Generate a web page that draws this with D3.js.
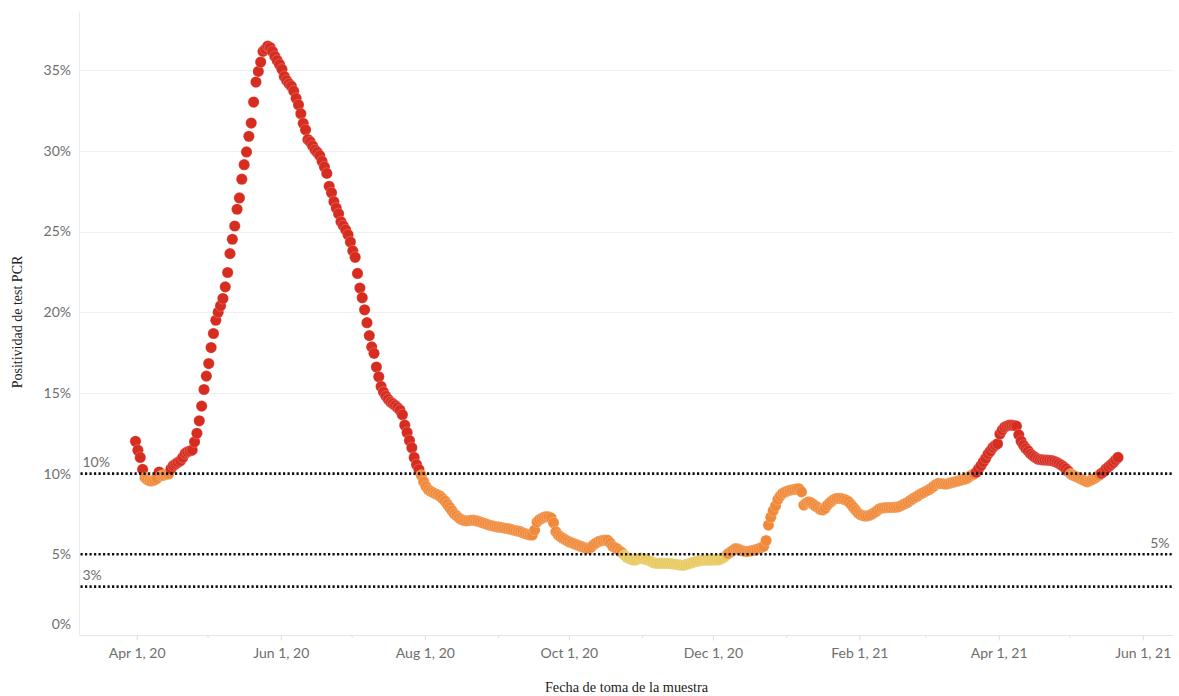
<!DOCTYPE html>
<html>
<head>
<meta charset="utf-8">
<script src="https://cdn.jsdelivr.net/npm/d3@7"></script>
<style>
  html, body { margin: 0; padding: 0; background: #fff; }
  svg { display: block; }
  .tick-lbl { font-family: Lato, "Open Sans", sans-serif; font-size: 14px; fill: #6e6e6e; }
</style>
</head>
<body>
<svg id="chart" width="1179" height="696"></svg>
<script>
// ---- Data: daily PCR positivity (%), series starts 2020-03-31 ----
const startDate = "2020-03-31";
const mar20 = [12.0];
const apr20 = [11.45, 11.0, 10.26, 9.75, 9.62, 9.55, 9.55, 9.6, 9.7, 10.1, 9.88, 9.9, 9.95, 9.98, 10.3, 10.5, 10.6, 10.7, 10.8, 11.0, 11.25, 11.35, 11.4, 11.46, 11.97, 12.5, 13.27, 14.18, 15.21, 16.04];
const may20 = [16.82, 17.81, 18.68, 19.5, 20.0, 20.4, 20.85, 21.57, 22.46, 23.63, 24.52, 25.34, 26.38, 27.08, 28.24, 29.14, 29.93, 30.9, 31.72, 33.02, 34.26, 34.92, 35.5, 36.16, 36.3, 36.49, 36.4, 36.15, 35.85, 35.6, 35.35];
const jun20 = [35.05, 34.6, 34.35, 34.15, 34.0, 33.7, 33.25, 32.85, 32.3, 31.7, 31.3, 30.7, 30.55, 30.3, 30.05, 29.9, 29.7, 29.35, 29.0, 28.6, 27.8, 27.4, 26.85, 26.45, 26.1, 25.6, 25.35, 25.1, 24.8, 24.35];
const jul20 = [23.8, 23.4, 22.4, 21.5, 20.9, 20.15, 19.35, 18.55, 17.85, 17.45, 16.6, 16.0, 15.4, 15.05, 14.8, 14.6, 14.43, 14.33, 14.22, 14.08, 13.93, 13.65, 13.0, 12.55, 12.05, 11.6, 11.0, 10.55, 10.25, 9.9, 9.5];
const aug20 = [9.2, 9.0, 8.9, 8.82, 8.75, 8.68, 8.6, 8.45, 8.3, 8.1, 7.9, 7.7, 7.5, 7.38, 7.25, 7.15, 7.1, 7.07, 7.08, 7.1, 7.12, 7.08, 7.05, 7.0, 6.95, 6.9, 6.85, 6.8, 6.77, 6.73, 6.7];
const sep20 = [6.68, 6.66, 6.63, 6.6, 6.58, 6.55, 6.5, 6.47, 6.43, 6.4, 6.33, 6.28, 6.24, 6.2, 6.2, 6.5, 7.0, 7.15, 7.22, 7.3, 7.33, 7.32, 7.25, 6.95, 6.4, 6.19, 6.08, 5.99, 5.9, 5.82];
const oct20 = [5.75, 5.7, 5.63, 5.58, 5.52, 5.47, 5.42, 5.38, 5.36, 5.45, 5.6, 5.7, 5.78, 5.84, 5.86, 5.88, 5.86, 5.7, 5.5, 5.42, 5.33, 5.2, 5.1, 4.95, 4.82, 4.74, 4.68, 4.64, 4.66, 4.72, 4.76];
const nov20 = [4.72, 4.68, 4.64, 4.58, 4.5, 4.45, 4.44, 4.44, 4.45, 4.44, 4.43, 4.42, 4.41, 4.4, 4.38, 4.35, 4.33, 4.32, 4.36, 4.4, 4.45, 4.5, 4.54, 4.58, 4.6, 4.62, 4.64, 4.64, 4.63, 4.64];
const dec20 = [4.65, 4.66, 4.66, 4.72, 4.8, 4.92, 5.05, 5.15, 5.25, 5.35, 5.33, 5.28, 5.22, 5.18, 5.17, 5.2, 5.23, 5.26, 5.3, 5.36, 5.42, 5.5, 5.85, 6.81, 7.3, 7.7, 8.0, 8.4, 8.62, 8.78, 8.86];
const jan21 = [8.92, 8.97, 9.0, 9.02, 9.05, 9.05, 8.87, 8.05, 8.18, 8.25, 8.2, 8.1, 7.98, 7.9, 7.78, 7.75, 7.85, 8.05, 8.2, 8.32, 8.42, 8.46, 8.47, 8.45, 8.41, 8.35, 8.25, 8.08, 7.9, 7.72, 7.55];
const feb21 = [7.45, 7.4, 7.37, 7.38, 7.43, 7.5, 7.6, 7.7, 7.82, 7.86, 7.88, 7.89, 7.9, 7.9, 7.91, 7.92, 7.94, 8.0, 8.08, 8.15, 8.23, 8.33, 8.43, 8.52, 8.6, 8.7, 8.78, 8.85];
const mar21 = [8.93, 9.0, 9.1, 9.22, 9.33, 9.39, 9.38, 9.37, 9.35, 9.37, 9.42, 9.46, 9.49, 9.53, 9.57, 9.61, 9.65, 9.7, 9.8, 9.9, 9.97, 10.08, 10.3, 10.5, 10.73, 10.95, 11.22, 11.4, 11.62, 11.75, 11.85];
const apr21 = [12.45, 12.7, 12.88, 12.95, 13.0, 13.0, 12.98, 12.94, 12.4, 12.0, 11.75, 11.55, 11.4, 11.22, 11.1, 11.0, 10.9, 10.87, 10.85, 10.84, 10.84, 10.82, 10.8, 10.76, 10.7, 10.62, 10.53, 10.42, 10.3, 10.15];
const may21 = [9.98, 9.9, 9.83, 9.77, 9.7, 9.62, 9.55, 9.49, 9.55, 9.62, 9.7, 9.8, 9.9, 10.02, 10.12, 10.3, 10.42, 10.55, 10.68, 10.85, 11.0];

const yTickValues = [0, 5, 10, 15, 20, 25, 30, 35];
const xMajorTicks = ["2020-04-01", "2020-06-01", "2020-08-01", "2020-10-01", "2020-12-01", "2021-02-01", "2021-04-01", "2021-06-01"];
const xMinorTicks = ["2020-05-01", "2020-07-01", "2020-09-01", "2020-11-01", "2021-01-01", "2021-03-01", "2021-05-01"];
const refLines = [10, 5, 3];
const refLabels = ["10%", "5%", "3%"];
const xTitle = "Fecha de toma de la muestra";
const yTitle = "Positividad de test PCR";

// ---- Build ----
const values = [].concat(mar20, apr20, may20, jun20, jul20, aug20, sep20, oct20, nov20, dec20, jan21, feb21, mar21, apr21, may21);
const parse = d3.utcParse("%Y-%m-%d");
const t0 = parse(startDate);
const DAY = 864e5;
const data = values.map((v, i) => ({ date: new Date(t0.getTime() + i * DAY + DAY / 2), v }));

const svg = d3.select("#chart");
const pL = 79.5, pR = 1173, pT = 12, pB = 635;
const apr1 = parse("2020-04-01").getTime();
const x = d3.scaleUtc()
  .domain([new Date(apr1 - 24.22 * DAY), new Date(apr1 + 438.8 * DAY)])
  .range([pL, pR]);
const y = d3.scaleLinear().domain([0, 38.6]).range([pB, pT]);

const color = v => v >= 10 ? "#d62d20" : (v >= 5 ? "#f08a3a" : "#e8c85c");

// gridlines
svg.append("g").selectAll("line").data(yTickValues.filter(d => d > 0)).join("line")
  .attr("x1", pL).attr("x2", pR)
  .attr("y1", d => Math.round(y(d)) + 0.5).attr("y2", d => Math.round(y(d)) + 0.5)
  .attr("stroke", "#f0f0f0").attr("stroke-width", 1);

// axis lines
svg.append("line").attr("x1", pL).attr("x2", pL).attr("y1", pT).attr("y2", pB)
  .attr("stroke", "#ebebeb");
svg.append("line").attr("x1", pL).attr("x2", pR).attr("y1", pB + 0.5).attr("y2", pB + 0.5)
  .attr("stroke", "#e6e6e6");

// y axis
const yAxis = svg.append("g").attr("transform", `translate(${pL},0)`)
  .call(d3.axisLeft(y).tickValues(yTickValues).tickSize(0).tickPadding(8.5).tickFormat(d => d + "%"));
yAxis.select(".domain").remove();
yAxis.selectAll("text").attr("class", "tick-lbl").attr("fill", null);
yAxis.attr("font-family", null).attr("font-size", null);
yAxis.selectAll(".tick").filter(d => d === 0).select("text").attr("y", -11);

// x axis major
const xAxis = svg.append("g").attr("transform", `translate(0,${pB + 0.5})`)
  .call(d3.axisBottom(x).tickValues(xMajorTicks.map(parse)).tickSize(5).tickFormat(d3.utcFormat("%b %-d, %y")));
xAxis.select(".domain").remove();
xAxis.attr("font-family", null).attr("font-size", null);
xAxis.selectAll("line").attr("stroke", "#dcdcdc");
xAxis.selectAll("text").attr("class", "tick-lbl").attr("fill", null)
  .attr("y", 17.5).attr("dy", "0.35em");

// x axis minor
const xMinor = svg.append("g").attr("transform", `translate(0,${pB + 0.5})`)
  .call(d3.axisBottom(x).tickValues(xMinorTicks.map(parse)).tickSize(2.5).tickFormat(""));
xMinor.select(".domain").remove();
xMinor.selectAll("line").attr("stroke", "#e0e0e0");

// dots
svg.append("g").selectAll("circle").data(data).join("circle")
  .attr("cx", d => x(d.date)).attr("cy", d => y(d.v)).attr("r", 5.6)
  .attr("fill", d => color(d.v))
  .attr("stroke", "rgba(255,255,255,0.35)").attr("stroke-width", 0.6);

// reference lines (on top)
svg.append("g").selectAll("line").data(refLines).join("line")
  .attr("x1", pL + 1).attr("x2", pR)
  .attr("y1", d => y(d)).attr("y2", d => y(d))
  .attr("stroke", "#111").attr("stroke-width", 2.6).attr("stroke-dasharray", "2.2,2.3");

const refG = svg.append("g");
refLines.forEach((d, i) => {
  const isRight = d === 5;
  refG.append("text").attr("class", "tick-lbl")
    .attr("x", isRight ? 1169.5 : 82.5)
    .attr("y", y(d) - 6.3)
    .attr("text-anchor", isRight ? "end" : "start")
    .text(refLabels[i]);
});

// axis titles
svg.append("text")
  .attr("transform", "translate(22,322) rotate(-90)")
  .attr("text-anchor", "middle")
  .attr("font-family", "'Liberation Serif', 'Times New Roman', serif")
  .attr("font-size", 14).attr("fill", "#222")
  .text(yTitle);
svg.append("text")
  .attr("x", 626.5).attr("y", 692)
  .attr("text-anchor", "middle")
  .attr("font-family", "'Liberation Serif', 'Times New Roman', serif")
  .attr("font-size", 14.3).attr("fill", "#222")
  .text(xTitle);
</script>
</body>
</html>
